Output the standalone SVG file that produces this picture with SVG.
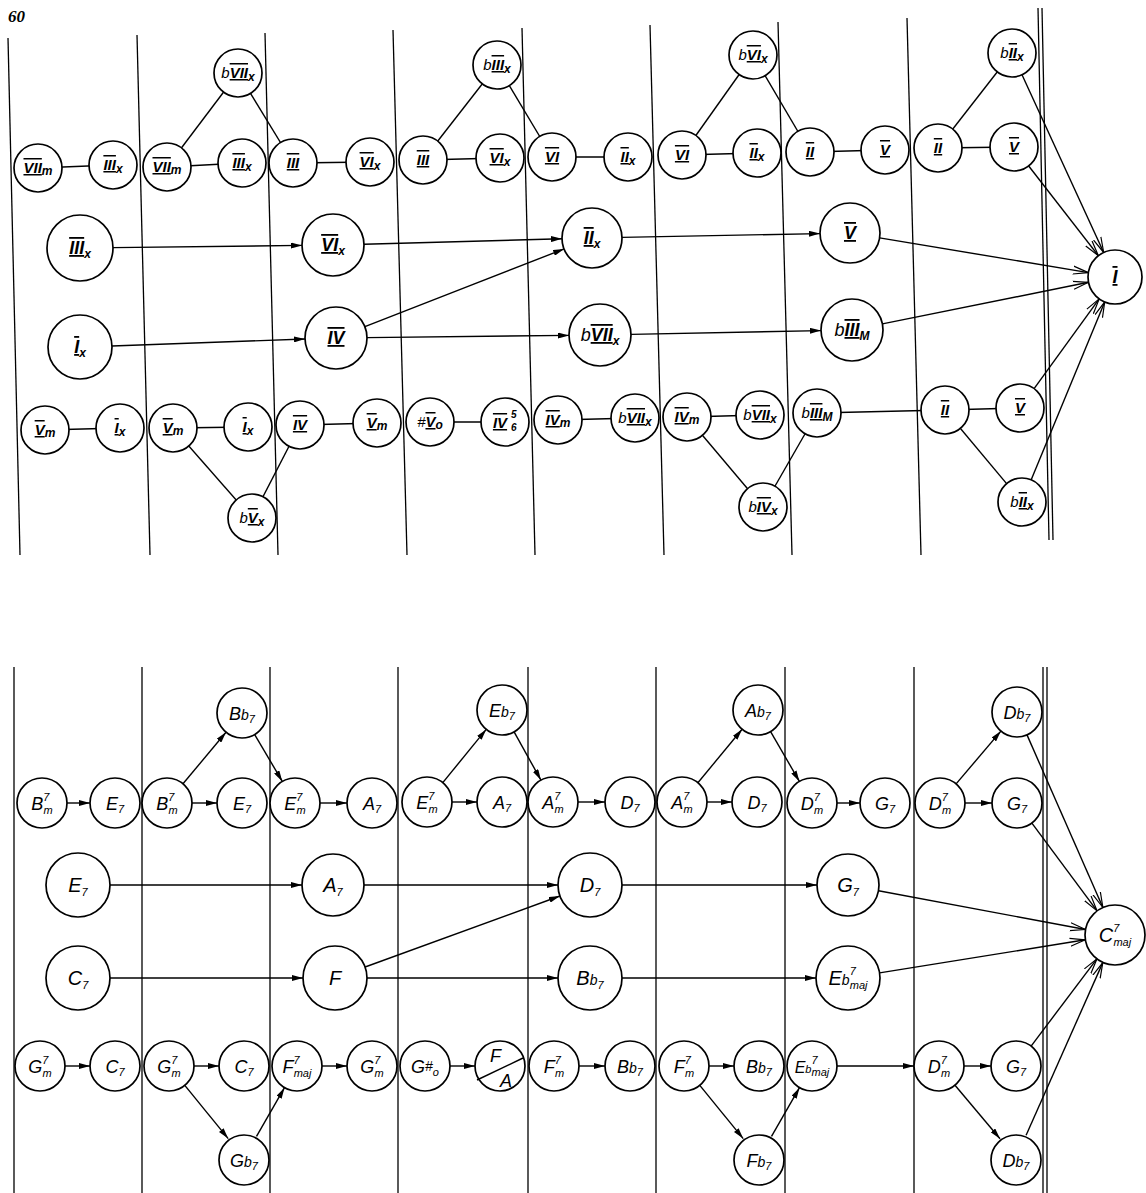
<svg xmlns="http://www.w3.org/2000/svg" width="1146" height="1193" viewBox="0 0 1146 1193">
<style>
  .bg{fill:#fff}
  .vl line{stroke:#000;stroke-width:1.3}
  .cn line{stroke:#000;stroke-width:1.4;fill:none}
  .nd circle{fill:#fff;stroke:#000;stroke-width:1.7}
  text{font-family:"Liberation Sans",Arial,sans-serif;font-style:italic;fill:#000}
  .c{text-anchor:middle}
  .s1{font-size:15px}
  .s2{font-size:18px}
  .rn{font-weight:bold;text-decoration:underline overline}
  .sb{font-size:12px;font-weight:bold}
  .ch{font-size:18px}
  .ch2{font-size:20px}
  .sp{font-size:11px}
  .fl{font-size:14px}
  .pg{font-family:"Liberation Serif",serif;font-weight:bold;font-style:italic;font-size:17px}
</style>
<defs>
  <marker id="fa" viewBox="0 0 11 6" refX="11" refY="3" markerWidth="11" markerHeight="6" markerUnits="userSpaceOnUse" orient="auto">
    <path d="M0,0 L11,3 L0,6 z" fill="#000"/>
  </marker>
  <marker id="oa" viewBox="0 0 16 10" refX="15.5" refY="5" markerWidth="16" markerHeight="10" markerUnits="userSpaceOnUse" orient="auto">
    <path d="M0,1 L15.5,5 L0,9" fill="none" stroke="#000" stroke-width="1.2"/>
  </marker>
</defs>
<rect class="bg" x="0" y="0" width="1146" height="1193"/>
<text class="pg" x="8" y="22">60</text>

<g id="grid-top" class="vl">
  <line x1="8" y1="38" x2="20" y2="555"/>
  <line x1="137" y1="35" x2="150" y2="555"/>
  <line x1="265" y1="33" x2="278" y2="555"/>
  <line x1="393" y1="30" x2="407" y2="555"/>
  <line x1="522" y1="28" x2="535" y2="555"/>
  <line x1="650" y1="25" x2="664" y2="555"/>
  <line x1="778" y1="22" x2="792" y2="555"/>
  <line x1="907" y1="18" x2="921" y2="555"/>
  <line x1="1038" y1="8" x2="1049" y2="540"/>
  <line x1="1042" y1="8" x2="1053" y2="540"/>
</g>
<g id="grid-bottom" class="vl">
  <line x1="14" y1="667" x2="14" y2="1193"/>
  <line x1="142" y1="667" x2="142" y2="1193"/>
  <line x1="270" y1="667" x2="270" y2="1193"/>
  <line x1="398" y1="667" x2="398" y2="1193"/>
  <line x1="528" y1="667" x2="528" y2="1193"/>
  <line x1="656" y1="667" x2="656" y2="1193"/>
  <line x1="785" y1="667" x2="785" y2="1193"/>
  <line x1="914" y1="667" x2="914" y2="1193"/>
  <line x1="1043" y1="667" x2="1043" y2="1193"/>
  <line x1="1047" y1="667" x2="1047" y2="1193"/>
</g>

<g id="connectors" class="cn">
  <line x1="38" y1="168" x2="113" y2="165"/>
  <line x1="167" y1="167" x2="242" y2="163"/>
  <line x1="293" y1="163" x2="370" y2="162"/>
  <line x1="423" y1="160" x2="500" y2="158"/>
  <line x1="552" y1="157" x2="628" y2="157"/>
  <line x1="682" y1="155" x2="757" y2="153"/>
  <line x1="810" y1="152" x2="885" y2="150"/>
  <line x1="938" y1="148" x2="1014" y2="147"/>
  <line x1="167" y1="167" x2="238" y2="73"/>
  <line x1="238" y1="73" x2="293" y2="163"/>
  <line x1="423" y1="160" x2="497" y2="65"/>
  <line x1="497" y1="65" x2="552" y2="157"/>
  <line x1="682" y1="155" x2="753" y2="55"/>
  <line x1="753" y1="55" x2="810" y2="152"/>
  <line x1="938" y1="148" x2="1012" y2="53"/>
  <line x1="45" y1="430" x2="120" y2="428"/>
  <line x1="173" y1="428" x2="248" y2="427"/>
  <line x1="300" y1="425" x2="377" y2="423"/>
  <line x1="430" y1="422" x2="505" y2="422"/>
  <line x1="558" y1="420" x2="635" y2="418"/>
  <line x1="687" y1="417" x2="760" y2="415"/>
  <line x1="817" y1="413" x2="945" y2="410"/>
  <line x1="945" y1="410" x2="1020" y2="408"/>
  <line x1="173" y1="428" x2="252" y2="518"/>
  <line x1="252" y1="518" x2="300" y2="425"/>
  <line x1="687" y1="417" x2="763" y2="507"/>
  <line x1="763" y1="507" x2="817" y2="413"/>
  <line x1="945" y1="410" x2="1022" y2="502"/>
  <line x1="113" y1="247.6" x2="302" y2="245.4" marker-end="url(#fa)"/>
  <line x1="364" y1="244.2" x2="562" y2="238.8" marker-end="url(#fa)"/>
  <line x1="622" y1="237.4" x2="820" y2="233.6" marker-end="url(#fa)"/>
  <line x1="879.6" y1="237.9" x2="1088.4" y2="272.6" marker-end="url(#oa)"/>
  <line x1="112" y1="346" x2="305" y2="339" marker-end="url(#fa)"/>
  <line x1="364.9" y1="326.7" x2="564.1" y2="248.9" marker-end="url(#fa)"/>
  <line x1="367" y1="337.6" x2="569" y2="335.4" marker-end="url(#fa)"/>
  <line x1="631" y1="334.4" x2="821" y2="330.6" marker-end="url(#fa)"/>
  <line x1="882.4" y1="323.9" x2="1088.5" y2="282.3" marker-end="url(#oa)"/>
  <line x1="1028.7" y1="166" x2="1098.4" y2="255.7" marker-end="url(#oa)"/>
  <line x1="1022" y1="74.8" x2="1103.7" y2="252.5" marker-end="url(#oa)"/>
  <line x1="1034.1" y1="388.6" x2="1099.2" y2="298.9" marker-end="url(#oa)"/>
  <line x1="1031.2" y1="479.8" x2="1104.7" y2="301.9" marker-end="url(#oa)"/>

  <line x1="67" y1="803" x2="90" y2="803" marker-end="url(#fa)"/>
  <line x1="192" y1="803" x2="217" y2="803" marker-end="url(#fa)"/>
  <line x1="320" y1="803" x2="347" y2="803" marker-end="url(#fa)"/>
  <line x1="452" y1="802" x2="477" y2="802" marker-end="url(#fa)"/>
  <line x1="578" y1="802" x2="605" y2="802" marker-end="url(#fa)"/>
  <line x1="707" y1="802" x2="732" y2="802" marker-end="url(#fa)"/>
  <line x1="837" y1="803" x2="860" y2="803" marker-end="url(#fa)"/>
  <line x1="965" y1="803" x2="992" y2="803" marker-end="url(#fa)"/>
  <line x1="183" y1="783.8" x2="226" y2="732.2" marker-end="url(#fa)"/>
  <line x1="254.7" y1="734.6" x2="282.3" y2="781.4" marker-end="url(#fa)"/>
  <line x1="442.8" y1="782.6" x2="486.2" y2="729.4" marker-end="url(#fa)"/>
  <line x1="514.1" y1="731.9" x2="540.9" y2="780.1" marker-end="url(#fa)"/>
  <line x1="697.9" y1="782.7" x2="742.1" y2="729.3" marker-end="url(#fa)"/>
  <line x1="770.6" y1="731.6" x2="799.4" y2="781.4" marker-end="url(#fa)"/>
  <line x1="956.1" y1="783.9" x2="1000.9" y2="731.1" marker-end="url(#fa)"/>
  <line x1="1027" y1="734.9" x2="1102.9" y2="907.5" marker-end="url(#oa)"/>
  <line x1="1031.9" y1="823.1" x2="1097.1" y2="910.9" marker-end="url(#oa)"/>
  <line x1="110" y1="885" x2="302" y2="885" marker-end="url(#fa)"/>
  <line x1="364" y1="885" x2="558" y2="885" marker-end="url(#fa)"/>
  <line x1="622" y1="885" x2="817" y2="885" marker-end="url(#fa)"/>
  <line x1="878.5" y1="890.7" x2="1085.5" y2="929.5" marker-end="url(#oa)"/>
  <line x1="110" y1="978" x2="303" y2="978" marker-end="url(#fa)"/>
  <line x1="365.1" y1="967" x2="559.9" y2="896" marker-end="url(#fa)"/>
  <line x1="367" y1="978" x2="558" y2="978" marker-end="url(#fa)"/>
  <line x1="622" y1="978" x2="816" y2="978" marker-end="url(#fa)"/>
  <line x1="879.6" y1="972.9" x2="1085.4" y2="939.8" marker-end="url(#oa)"/>
  <line x1="65" y1="1066" x2="90" y2="1066" marker-end="url(#fa)"/>
  <line x1="194" y1="1066" x2="219" y2="1066" marker-end="url(#fa)"/>
  <line x1="184.8" y1="1085.4" x2="228.2" y2="1138.6" marker-end="url(#fa)"/>
  <line x1="256.5" y1="1136.3" x2="284.5" y2="1087.7" marker-end="url(#fa)"/>
  <line x1="322" y1="1066" x2="347" y2="1066" marker-end="url(#fa)"/>
  <line x1="450" y1="1066" x2="475" y2="1066" marker-end="url(#fa)"/>
  <line x1="579" y1="1066" x2="605" y2="1066" marker-end="url(#fa)"/>
  <line x1="709" y1="1066" x2="734" y2="1066" marker-end="url(#fa)"/>
  <line x1="699.8" y1="1085.4" x2="743.2" y2="1138.6" marker-end="url(#fa)"/>
  <line x1="771.5" y1="1136.3" x2="799.5" y2="1087.7" marker-end="url(#fa)"/>
  <line x1="837" y1="1066" x2="914" y2="1066" marker-end="url(#fa)"/>
  <line x1="964" y1="1066" x2="991" y2="1066" marker-end="url(#fa)"/>
  <line x1="955" y1="1085.2" x2="1000" y2="1138.8" marker-end="url(#fa)"/>
  <line x1="1031.1" y1="1046.1" x2="1096.9" y2="958.9" marker-end="url(#oa)"/>
  <line x1="1026.1" y1="1135.2" x2="1102.8" y2="962.6" marker-end="url(#oa)"/>
</g>

<g class="nd">
  <g id="t1"><circle cx="38" cy="168" r="24"/><text class="c s1" x="38" y="173"><tspan class="rn">VII</tspan><tspan class="sb" dy="2">m</tspan></text></g>
  <g id="t2"><circle cx="113" cy="165" r="24"/><text class="c s1" x="113" y="170"><tspan class="rn">III</tspan><tspan class="sb" dy="3">x</tspan></text></g>
  <g id="t3"><circle cx="167" cy="167" r="24"/><text class="c s1" x="167" y="172"><tspan class="rn">VII</tspan><tspan class="sb" dy="2">m</tspan></text></g>
  <g id="t4"><circle cx="242" cy="163" r="24"/><text class="c s1" x="242" y="168"><tspan class="rn">III</tspan><tspan class="sb" dy="3">x</tspan></text></g>
  <g id="t5"><circle cx="293" cy="163" r="24"/><text class="c s1" x="293" y="168"><tspan class="rn">III</tspan></text></g>
  <g id="t6"><circle cx="370" cy="162" r="24"/><text class="c s1" x="370" y="167"><tspan class="rn">VI</tspan><tspan class="sb" dy="3">x</tspan></text></g>
  <g id="t7"><circle cx="423" cy="160" r="24"/><text class="c s1" x="423" y="165"><tspan class="rn">III</tspan></text></g>
  <g id="t8"><circle cx="500" cy="158" r="24"/><text class="c s1" x="500" y="163"><tspan class="rn">VI</tspan><tspan class="sb" dy="3">x</tspan></text></g>
  <g id="t9"><circle cx="552" cy="157" r="24"/><text class="c s1" x="552" y="162"><tspan class="rn">VI</tspan></text></g>
  <g id="t10"><circle cx="628" cy="157" r="24"/><text class="c s1" x="628" y="162"><tspan class="rn">II</tspan><tspan class="sb" dy="3">x</tspan></text></g>
  <g id="t11"><circle cx="682" cy="155" r="24"/><text class="c s1" x="682" y="160"><tspan class="rn">VI</tspan></text></g>
  <g id="t12"><circle cx="757" cy="153" r="24"/><text class="c s1" x="757" y="158"><tspan class="rn">II</tspan><tspan class="sb" dy="3">x</tspan></text></g>
  <g id="t13"><circle cx="810" cy="152" r="24"/><text class="c s1" x="810" y="157"><tspan class="rn">II</tspan></text></g>
  <g id="t14"><circle cx="885" cy="150" r="24"/><text class="c s1" x="885" y="155"><tspan class="rn">V</tspan></text></g>
  <g id="t15"><circle cx="938" cy="148" r="24"/><text class="c s1" x="938" y="153"><tspan class="rn">II</tspan></text></g>
  <g id="t16"><circle cx="1014" cy="147" r="24"/><text class="c s1" x="1014" y="152"><tspan class="rn">V</tspan></text></g>
  <g id="u1"><circle cx="238" cy="73" r="24"/><text class="c s1" x="238" y="78">b<tspan class="rn">VII</tspan><tspan class="sb" dy="3">x</tspan></text></g>
  <g id="u2"><circle cx="497" cy="65" r="24"/><text class="c s1" x="497" y="70">b<tspan class="rn">III</tspan><tspan class="sb" dy="3">x</tspan></text></g>
  <g id="u3"><circle cx="753" cy="55" r="24"/><text class="c s1" x="753" y="60">b<tspan class="rn">VI</tspan><tspan class="sb" dy="3">x</tspan></text></g>
  <g id="u4"><circle cx="1012" cy="53" r="24"/><text class="c s1" x="1012" y="58">b<tspan class="rn">II</tspan><tspan class="sb" dy="3">x</tspan></text></g>

  <g id="m1"><circle cx="80" cy="248" r="33"/><text class="c s2" x="80" y="254"><tspan class="rn">III</tspan><tspan class="sb" dy="4">x</tspan></text></g>
  <g id="m2"><circle cx="333" cy="245" r="31"/><text class="c s2" x="333" y="251"><tspan class="rn">VI</tspan><tspan class="sb" dy="4">x</tspan></text></g>
  <g id="m3"><circle cx="592" cy="238" r="30"/><text class="c s2" x="592" y="244"><tspan class="rn">II</tspan><tspan class="sb" dy="4">x</tspan></text></g>
  <g id="m4"><circle cx="850" cy="233" r="30"/><text class="c s2" x="850" y="239"><tspan class="rn">V</tspan></text></g>
  <g id="mI"><circle cx="1115" cy="277" r="27"/><text class="c s2" x="1115" y="283"><tspan class="rn">I</tspan></text></g>
  <g id="m5"><circle cx="80" cy="347" r="32"/><text class="c s2" x="80" y="353"><tspan class="rn">I</tspan><tspan class="sb" dy="4">x</tspan></text></g>
  <g id="m6"><circle cx="336" cy="338" r="31"/><text class="c s2" x="336" y="344"><tspan class="rn">IV</tspan></text></g>
  <g id="m7"><circle cx="600" cy="335" r="31"/><text class="c s2" x="600" y="341">b<tspan class="rn">VII</tspan><tspan class="sb" dy="4">x</tspan></text></g>
  <g id="m8"><circle cx="852" cy="330" r="31"/><text class="c s2" x="852" y="336">b<tspan class="rn">III</tspan><tspan class="sb" dy="4">M</tspan></text></g>

  <g id="b1"><circle cx="45" cy="430" r="24"/><text class="c s1" x="45" y="435"><tspan class="rn">V</tspan><tspan class="sb" dy="2">m</tspan></text></g>
  <g id="b2"><circle cx="120" cy="428" r="24"/><text class="c s1" x="120" y="433"><tspan class="rn">I</tspan><tspan class="sb" dy="3">x</tspan></text></g>
  <g id="b3"><circle cx="173" cy="428" r="24"/><text class="c s1" x="173" y="433"><tspan class="rn">V</tspan><tspan class="sb" dy="2">m</tspan></text></g>
  <g id="b4"><circle cx="248" cy="427" r="24"/><text class="c s1" x="248" y="432"><tspan class="rn">I</tspan><tspan class="sb" dy="3">x</tspan></text></g>
  <g id="b5"><circle cx="300" cy="425" r="24"/><text class="c s1" x="300" y="430"><tspan class="rn">IV</tspan></text></g>
  <g id="b6"><circle cx="377" cy="423" r="24"/><text class="c s1" x="377" y="428"><tspan class="rn">V</tspan><tspan class="sb" dy="2">m</tspan></text></g>
  <g id="b7"><circle cx="430" cy="422" r="24"/><text class="c s1" x="430" y="427">#<tspan class="rn">V</tspan><tspan class="sb" dy="2">o</tspan></text></g>
  <g id="b8"><circle cx="505" cy="422" r="24"/><text class="c s1" x="500" y="428"><tspan class="rn">IV</tspan></text><text class="sb" x="511" y="418" style="font-size:10px">5</text><text class="sb" x="511" y="431" style="font-size:10px">6</text></g>
  <g id="b9"><circle cx="558" cy="420" r="24"/><text class="c s1" x="558" y="425"><tspan class="rn">IV</tspan><tspan class="sb" dy="2">m</tspan></text></g>
  <g id="b10"><circle cx="635" cy="418" r="24"/><text class="c s1" x="635" y="423">b<tspan class="rn">VII</tspan><tspan class="sb" dy="3">x</tspan></text></g>
  <g id="b11"><circle cx="687" cy="417" r="24"/><text class="c s1" x="687" y="422"><tspan class="rn">IV</tspan><tspan class="sb" dy="2">m</tspan></text></g>
  <g id="b12"><circle cx="760" cy="415" r="24"/><text class="c s1" x="760" y="420">b<tspan class="rn">VII</tspan><tspan class="sb" dy="3">x</tspan></text></g>
  <g id="b13"><circle cx="817" cy="413" r="24"/><text class="c s1" x="817" y="418">b<tspan class="rn">III</tspan><tspan class="sb" dy="3">M</tspan></text></g>
  <g id="b14"><circle cx="945" cy="410" r="24"/><text class="c s1" x="945" y="415"><tspan class="rn">II</tspan></text></g>
  <g id="b15"><circle cx="1020" cy="408" r="24"/><text class="c s1" x="1020" y="413"><tspan class="rn">V</tspan></text></g>
  <g id="d1"><circle cx="252" cy="518" r="24"/><text class="c s1" x="252" y="523">b<tspan class="rn">V</tspan><tspan class="sb" dy="3">x</tspan></text></g>
  <g id="d2"><circle cx="763" cy="507" r="24"/><text class="c s1" x="763" y="512">b<tspan class="rn">IV</tspan><tspan class="sb" dy="3">x</tspan></text></g>
  <g id="d3"><circle cx="1022" cy="502" r="24"/><text class="c s1" x="1022" y="507">b<tspan class="rn">II</tspan><tspan class="sb" dy="3">x</tspan></text></g>
</g>

<g class="nd">
  <g id="B1"><circle cx="42" cy="803" r="25"/><text class="c ch" x="42" y="810">B<tspan class="sp" dy="-9">7</tspan><tspan class="sp" dx="-6" dy="13">m</tspan></text></g>
  <g id="B2"><circle cx="115" cy="803" r="25"/><text class="c ch" x="115" y="810">E<tspan class="sp" dy="3">7</tspan></text></g>
  <g id="B3"><circle cx="167" cy="803" r="25"/><text class="c ch" x="167" y="810">B<tspan class="sp" dy="-9">7</tspan><tspan class="sp" dx="-6" dy="13">m</tspan></text></g>
  <g id="B4"><circle cx="242" cy="803" r="25"/><text class="c ch" x="242" y="810">E<tspan class="sp" dy="3">7</tspan></text></g>
  <g id="B5"><circle cx="295" cy="803" r="25"/><text class="c ch" x="295" y="810">E<tspan class="sp" dy="-9">7</tspan><tspan class="sp" dx="-6" dy="13">m</tspan></text></g>
  <g id="B6"><circle cx="372" cy="803" r="25"/><text class="c ch" x="372" y="810">A<tspan class="sp" dy="3">7</tspan></text></g>
  <g id="B7"><circle cx="427" cy="802" r="25"/><text class="c ch" x="427" y="809">E<tspan class="sp" dy="-9">7</tspan><tspan class="sp" dx="-6" dy="13">m</tspan></text></g>
  <g id="B8"><circle cx="502" cy="802" r="25"/><text class="c ch" x="502" y="809">A<tspan class="sp" dy="3">7</tspan></text></g>
  <g id="B9"><circle cx="553" cy="802" r="25"/><text class="c ch" x="553" y="809">A<tspan class="sp" dy="-9">7</tspan><tspan class="sp" dx="-6" dy="13">m</tspan></text></g>
  <g id="B10"><circle cx="630" cy="802" r="25"/><text class="c ch" x="630" y="809">D<tspan class="sp" dy="3">7</tspan></text></g>
  <g id="B11"><circle cx="682" cy="802" r="25"/><text class="c ch" x="682" y="809">A<tspan class="sp" dy="-9">7</tspan><tspan class="sp" dx="-6" dy="13">m</tspan></text></g>
  <g id="B12"><circle cx="757" cy="802" r="25"/><text class="c ch" x="757" y="809">D<tspan class="sp" dy="3">7</tspan></text></g>
  <g id="B13"><circle cx="812" cy="803" r="25"/><text class="c ch" x="812" y="810">D<tspan class="sp" dy="-9">7</tspan><tspan class="sp" dx="-6" dy="13">m</tspan></text></g>
  <g id="B14"><circle cx="885" cy="803" r="25"/><text class="c ch" x="885" y="810">G<tspan class="sp" dy="3">7</tspan></text></g>
  <g id="B15"><circle cx="940" cy="803" r="25"/><text class="c ch" x="940" y="810">D<tspan class="sp" dy="-9">7</tspan><tspan class="sp" dx="-6" dy="13">m</tspan></text></g>
  <g id="B16"><circle cx="1017" cy="803" r="25"/><text class="c ch" x="1017" y="810">G<tspan class="sp" dy="3">7</tspan></text></g>
  <g id="U1"><circle cx="242" cy="713" r="25"/><text class="c ch" x="242" y="720">B<tspan class="fl">b</tspan><tspan class="sp" dy="3">7</tspan></text></g>
  <g id="U2"><circle cx="502" cy="710" r="25"/><text class="c ch" x="502" y="717">E<tspan class="fl">b</tspan><tspan class="sp" dy="3">7</tspan></text></g>
  <g id="U3"><circle cx="758" cy="710" r="25"/><text class="c ch" x="758" y="717">A<tspan class="fl">b</tspan><tspan class="sp" dy="3">7</tspan></text></g>
  <g id="U4"><circle cx="1017" cy="712" r="25"/><text class="c ch" x="1017" y="719">D<tspan class="fl">b</tspan><tspan class="sp" dy="3">7</tspan></text></g>

  <g id="M1"><circle cx="78" cy="885" r="32"/><text class="c ch2" x="78" y="892">E<tspan class="sp" dy="4">7</tspan></text></g>
  <g id="M2"><circle cx="333" cy="885" r="31"/><text class="c ch2" x="333" y="892">A<tspan class="sp" dy="4">7</tspan></text></g>
  <g id="M3"><circle cx="590" cy="885" r="32"/><text class="c ch2" x="590" y="892">D<tspan class="sp" dy="4">7</tspan></text></g>
  <g id="M4"><circle cx="848" cy="885" r="31"/><text class="c ch2" x="848" y="892">G<tspan class="sp" dy="4">7</tspan></text></g>
  <g id="MC"><circle cx="1115" cy="935" r="30"/><text class="c ch2" x="1115" y="942">C<tspan class="sp" dy="-10">7</tspan><tspan class="sp" dx="-6" dy="14">maj</tspan></text></g>
  <g id="M5"><circle cx="78" cy="978" r="32"/><text class="c ch2" x="78" y="985">C<tspan class="sp" dy="4">7</tspan></text></g>
  <g id="M6"><circle cx="335" cy="978" r="32"/><text class="c ch2" x="335" y="985">F</text></g>
  <g id="M7"><circle cx="590" cy="978" r="32"/><text class="c ch2" x="590" y="985">B<tspan class="fl">b</tspan><tspan class="sp" dy="4">7</tspan></text></g>
  <g id="M8"><circle cx="848" cy="978" r="32"/><text class="c ch2" x="848" y="985">E<tspan class="fl">b</tspan><tspan class="sp" dy="-10">7</tspan><tspan class="sp" dx="-6" dy="14">maj</tspan></text></g>

  <g id="L1"><circle cx="40" cy="1066" r="25"/><text class="c ch" x="40" y="1073">G<tspan class="sp" dy="-9">7</tspan><tspan class="sp" dx="-6" dy="13">m</tspan></text></g>
  <g id="L2"><circle cx="115" cy="1066" r="25"/><text class="c ch" x="115" y="1073">C<tspan class="sp" dy="3">7</tspan></text></g>
  <g id="L3"><circle cx="169" cy="1066" r="25"/><text class="c ch" x="169" y="1073">G<tspan class="sp" dy="-9">7</tspan><tspan class="sp" dx="-6" dy="13">m</tspan></text></g>
  <g id="L4"><circle cx="244" cy="1066" r="25"/><text class="c ch" x="244" y="1073">C<tspan class="sp" dy="3">7</tspan></text></g>
  <g id="L5"><circle cx="297" cy="1066" r="25"/><text class="c ch" x="297" y="1073">F<tspan class="sp" dy="-9">7</tspan><tspan class="sp" dx="-6" dy="13">maj</tspan></text></g>
  <g id="L6"><circle cx="372" cy="1066" r="25"/><text class="c ch" x="372" y="1073">G<tspan class="sp" dy="-9">7</tspan><tspan class="sp" dx="-6" dy="13">m</tspan></text></g>
  <g id="L7"><circle cx="425" cy="1066" r="25"/><text class="c ch" x="425" y="1073">G<tspan class="fl" dy="-2">#</tspan><tspan class="sp" dy="5">o</tspan></text></g>
  <g id="L8"><circle cx="500" cy="1066" r="25"/><line x1="477" y1="1080" x2="523" y2="1058" stroke="#000" stroke-width="1.4"/><text class="ch" x="490" y="1062">F</text><text class="ch" x="500" y="1087">A</text></g>
  <g id="L9"><circle cx="554" cy="1066" r="25"/><text class="c ch" x="554" y="1073">F<tspan class="sp" dy="-9">7</tspan><tspan class="sp" dx="-6" dy="13">m</tspan></text></g>
  <g id="L10"><circle cx="630" cy="1066" r="25"/><text class="c ch" x="630" y="1073">B<tspan class="fl">b</tspan><tspan class="sp" dy="3">7</tspan></text></g>
  <g id="L11"><circle cx="684" cy="1066" r="25"/><text class="c ch" x="684" y="1073">F<tspan class="sp" dy="-9">7</tspan><tspan class="sp" dx="-6" dy="13">m</tspan></text></g>
  <g id="L12"><circle cx="759" cy="1066" r="25"/><text class="c ch" x="759" y="1073">B<tspan class="fl">b</tspan><tspan class="sp" dy="3">7</tspan></text></g>
  <g id="L13"><circle cx="812" cy="1066" r="25"/><text class="c ch" x="812" y="1073" style="font-size:16px">E<tspan class="sp">b</tspan><tspan class="sp" dy="-9">7</tspan><tspan class="sp" dx="-6" dy="12">maj</tspan></text></g>
  <g id="L14"><circle cx="939" cy="1066" r="25"/><text class="c ch" x="939" y="1073">D<tspan class="sp" dy="-9">7</tspan><tspan class="sp" dx="-6" dy="13">m</tspan></text></g>
  <g id="L15"><circle cx="1016" cy="1066" r="25"/><text class="c ch" x="1016" y="1073">G<tspan class="sp" dy="3">7</tspan></text></g>
  <g id="D1"><circle cx="244" cy="1160" r="25"/><text class="c ch" x="244" y="1167">G<tspan class="fl">b</tspan><tspan class="sp" dy="3">7</tspan></text></g>
  <g id="D2"><circle cx="759" cy="1160" r="25"/><text class="c ch" x="759" y="1167">F<tspan class="fl">b</tspan><tspan class="sp" dy="3">7</tspan></text></g>
  <g id="D3"><circle cx="1016" cy="1160" r="25"/><text class="c ch" x="1016" y="1167">D<tspan class="fl">b</tspan><tspan class="sp" dy="3">7</tspan></text></g>
</g>
</svg>
